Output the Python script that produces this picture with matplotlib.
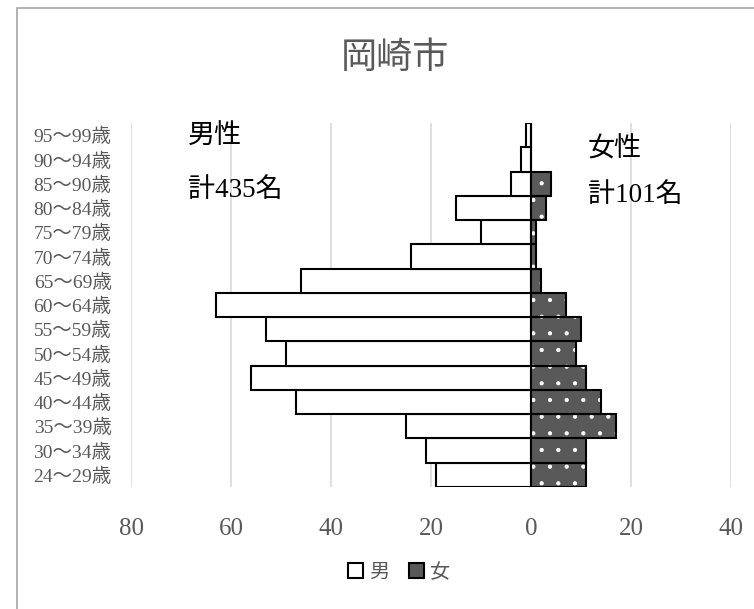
import matplotlib
matplotlib.use("Agg")
import matplotlib.pyplot as plt
from matplotlib.patches import Patch, Rectangle

plt.rcParams['font.family'] = ['Liberation Serif', 'Noto Sans CJK JP', 'DejaVu Sans']
plt.rcParams['hatch.linewidth'] = 0.6

categories = ["24～29歳", "30～34歳", "35～39歳", "40～44歳", "45～49歳", "50～54歳",
              "55～59歳", "60～64歳", "65～69歳", "70～74歳", "75～79歳", "80～84歳",
              "85～90歳", "90～94歳", "95～99歳"]
male = [19, 21, 25, 47, 56, 49, 53, 63, 46, 24, 10, 15, 4, 2, 1]
female = [11, 11, 17, 14, 11, 9, 10, 7, 2, 1, 1, 3, 4, 0, 0]
xticks = [-80, -60, -40, -20, 0, 20, 40]
xticklabels = ["80", "60", "40", "20", "0", "20", "40"]

W, H = 754, 609
fig = plt.figure(figsize=(W / 100, H / 100), dpi=100)
ax = fig.add_axes([131 / W, 1 - 487 / H, 600 / W, 364 / H])

gray = '#595959'
y = list(range(len(categories)))
neg_male = [-v for v in male]

ax.barh(y, neg_male, height=1.0, color='white', edgecolor='black', linewidth=1.5, zorder=3)
ax.barh(y, female, height=1.0, color=gray, edgecolor='white', hatch='.', linewidth=0, zorder=3)
ax.barh(y, female, height=1.0, color='none', edgecolor='black', linewidth=1.5, zorder=4)

ax.set_xlim(-80, 40)
ax.set_ylim(-0.5, len(categories) - 0.5)
ax.set_xticks(xticks)
ax.set_xticklabels(xticklabels)
ax.set_yticks(y)
ax.set_yticklabels(categories)
ax.tick_params(axis='x', length=0, pad=22, labelsize=18, labelcolor=gray)
ax.tick_params(axis='y', length=0, pad=14, labelsize=14, labelcolor=gray)
ax.grid(axis='x', color='#d9d9d9', linewidth=1.2, zorder=0)
ax.set_axisbelow(True)
for s in ax.spines.values():
    s.set_visible(False)

fig.text(395 / W, 1 - 59 / H, "岡崎市", ha='center', va='center', fontsize=26, color=gray)
fig.text(188 / W, 1 - 137 / H, "男性", ha='left', va='center', fontsize=19.5, color='black')
fig.text(188 / W, 1 - 190 / H, "計435名", ha='left', va='center', fontsize=19.5, color='black')
fig.text(588 / W, 1 - 150 / H, "女性", ha='left', va='center', fontsize=19.5, color='black')
fig.text(588 / W, 1 - 195 / H, "計101名", ha='left', va='center', fontsize=19.5, color='black')

handles = [Patch(facecolor='white', edgecolor='black', linewidth=1.5, label='男'),
           Patch(facecolor=gray, edgecolor='black', linewidth=1.5, label='女')]
fig.legend(handles=handles, loc='center', bbox_to_anchor=(399 / W, 1 - 573 / H), ncol=2,
           frameon=False, fontsize=14.5, labelcolor=gray, handlelength=0.75, handleheight=0.75,
           handletextpad=0.3, columnspacing=1.0)

fig.add_artist(Rectangle((17 / W, -0.1), 1.2, 1 - 8 / H + 0.1, transform=fig.transFigure,
                         fill=False, edgecolor='#a6a6a6', linewidth=1.2))

fig.savefig("out.png", dpi=100)
